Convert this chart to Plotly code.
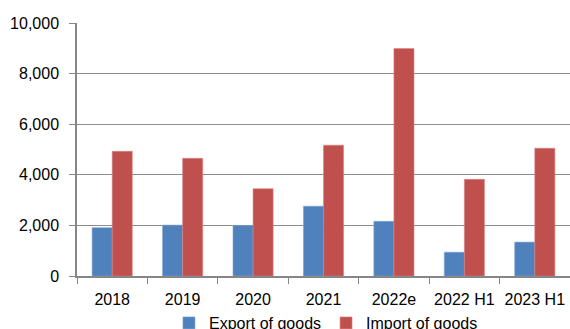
import plotly.graph_objects as go

categories = ["2018", "2019", "2020", "2021", "2022e", "2022 H1", "2023 H1"]
export_goods = [1910, 2010, 2000, 2760, 2160, 940, 1340]
import_goods = [4930, 4650, 3450, 5170, 8990, 3820, 5050]
y_ticks = [0, 2000, 4000, 6000, 8000, 10000]
y_tick_labels = ["0", "2,000", "4,000", "6,000", "8,000", "10,000"]

FONT = "Liberation Sans"
fig = go.Figure()
fig.add_trace(go.Bar(name="Export of goods", x=categories, y=export_goods,
                     marker=dict(color="#4F81BD", line=dict(color="#7FA3D1", width=0.6))))
fig.add_trace(go.Bar(name="Import of goods", x=categories, y=import_goods,
                     marker=dict(color="#C0504D", line=dict(color="#D98583", width=0.6))))

fig.update_layout(
    width=570, height=329,
    margin=dict(l=77, r=0, t=23, b=53, autoexpand=False),
    paper_bgcolor="white", plot_bgcolor="white",
    barmode="group", bargap=0.43, bargroupgap=0,
    font=dict(family=FONT, size=16, color="#000000"),
    legend=dict(orientation="h", x=0.505, xanchor="center", y=-0.186, yanchor="middle",
                font=dict(size=16), itemwidth=30, tracegroupgap=0,
                bgcolor="rgba(0,0,0,0)"),
    showlegend=True,
)
fig.update_xaxes(showline=True, linecolor="#868686", linewidth=1.5,
                 ticks="outside", tickson="boundaries", ticklen=6, tickcolor="#868686",
                 showgrid=False, ticklabelstandoff=8)
fig.update_yaxes(range=[0, 10000], tickvals=y_ticks, ticktext=y_tick_labels,
                 showline=True, linecolor="#868686", linewidth=1.5,
                 showgrid=True, gridcolor="#8C8C8C", gridwidth=1.2,
                 ticks="outside", ticklen=6, tickcolor="#868686",
                 zeroline=False, ticklabelstandoff=7)
fig.write_html("out.html")
